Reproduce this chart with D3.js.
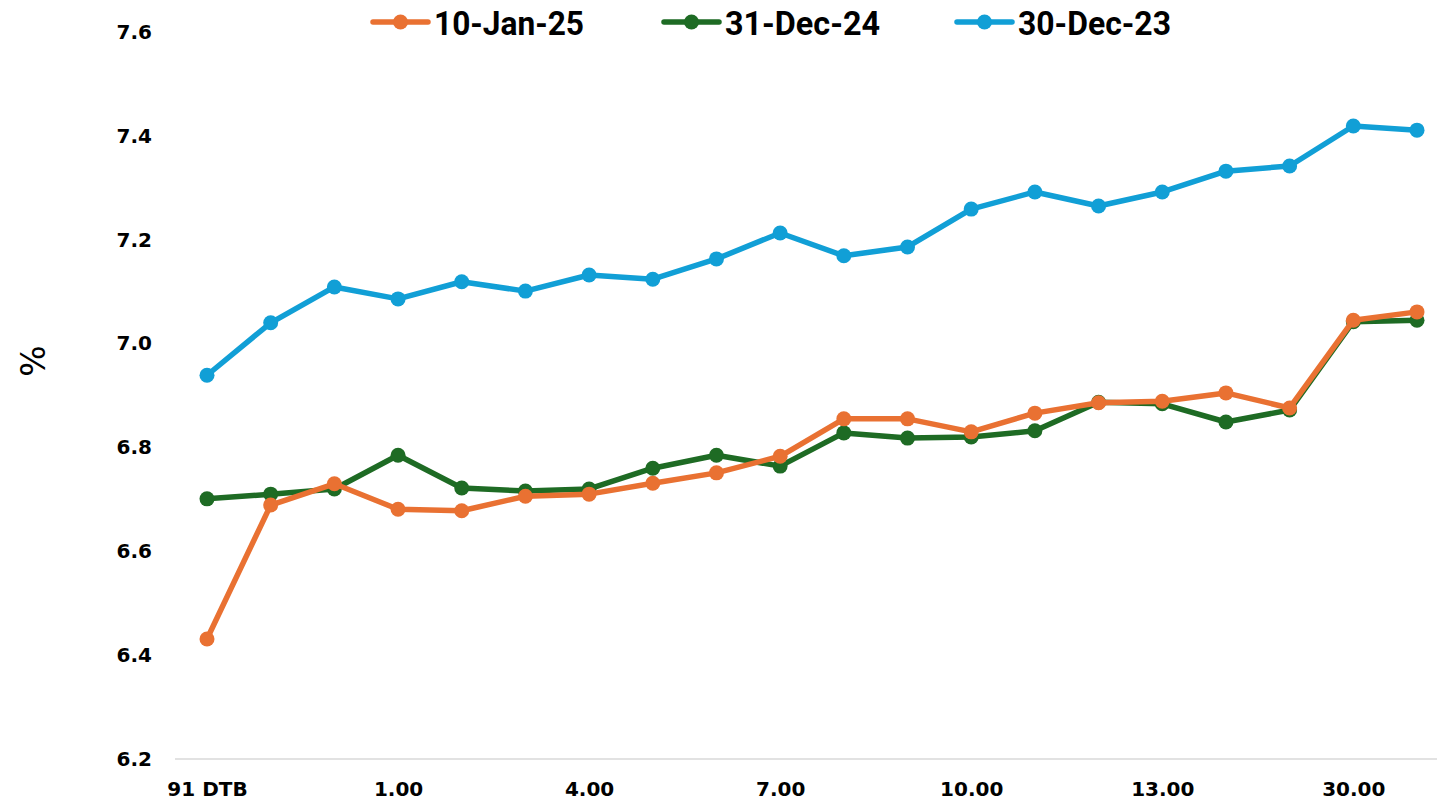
<!DOCTYPE html>
<html>
<head>
<meta charset="utf-8">
<script src="https://cdn.jsdelivr.net/npm/d3@7"></script>
<style>
  html, body { margin: 0; padding: 0; background: #fff; }
  svg { display: block; }
</style>
</head>
<body>
<svg id="chart" width="1437" height="805"></svg>
<script>
// Tenor buckets along the curve
const tenors = ["91 DTB", "182 DTB", "364 DTB", "1.00", "2.00", "3.00", "4.00", "5.00", "6.00", "7.00",
                "8.00", "9.00", "10.00", "11.00", "12.00", "13.00", "14.00", "15.00", "30.00", "40.00"];
// Only every third tenor is labelled on the axis
const shownTicks = ["91 DTB", "1.00", "4.00", "7.00", "10.00", "13.00", "30.00"];

// Yields (%) per date
const seriesNames = ["10-Jan-25", "31-Dec-24", "30-Dec-23"];
const jan25 = [6.431, 6.689, 6.730, 6.681, 6.678, 6.706, 6.710, 6.731, 6.751, 6.783,
               6.855, 6.855, 6.830, 6.866, 6.886, 6.889, 6.905, 6.876, 7.045, 7.061];
const dec24 = [6.701, 6.710, 6.720, 6.785, 6.722, 6.716, 6.720, 6.760, 6.785, 6.764,
               6.828, 6.818, 6.820, 6.832, 6.887, 6.884, 6.849, 6.872, 7.042, 7.045];
const dec23 = [6.939, 7.040, 7.109, 7.086, 7.119, 7.101, 7.132, 7.124, 7.163, 7.213,
               7.169, 7.186, 7.259, 7.292, 7.265, 7.292, 7.332, 7.342, 7.419, 7.411];
const yTicks = [6.2, 6.4, 6.6, 6.8, 7.0, 7.2, 7.4, 7.6];
const colors = ["#E97132", "#1E6B24", "#119FD6"];

const series = [jan25, dec24, dec23].map((vals, i) => ({
  name: seriesNames[i], color: colors[i],
  points: vals.map((v, j) => ({ tenor: tenors[j], value: v }))
}));

const svg = d3.select("#chart");
const tickFont = "'DejaVu Sans', 'Noto Sans', sans-serif";

const x = d3.scalePoint().domain(tenors).range([207, 1417]);
const y = d3.scaleLinear().domain([6.2, 7.6]).range([759, 32]);

// Baseline
svg.append("line")
  .attr("x1", 175).attr("x2", 1437)
  .attr("y1", y(6.2)).attr("y2", y(6.2))
  .attr("stroke", "#d9d9d9").attr("stroke-width", 1.5);

// Y axis labels
const yAxis = d3.axisLeft(y).tickValues(yTicks).tickFormat(d3.format(".1f")).tickSize(0).tickPadding(0);
const gy = svg.append("g").attr("transform", "translate(152,0)").call(yAxis);
gy.select(".domain").remove();
gy.selectAll("text")
  .attr("font-family", tickFont).attr("font-weight", "bold")
  .attr("font-size", 20).attr("fill", "#000");

// X axis labels
const xAxis = d3.axisBottom(x).tickValues(shownTicks).tickSize(0).tickPadding(0);
const gx = svg.append("g").attr("transform", `translate(0,${y(6.2)})`).call(xAxis);
gx.select(".domain").remove();
gx.selectAll("text")
  .attr("dy", 0).attr("y", 37)
  .attr("font-family", tickFont).attr("font-weight", "bold")
  .attr("font-size", 20).attr("fill", "#000");

// Y axis title
svg.append("text")
  .attr("transform", "translate(45,361) rotate(-90)")
  .attr("text-anchor", "middle")
  .attr("font-family", tickFont).attr("font-size", 33).attr("fill", "#000")
  .text("%");

// Lines and markers
const line = d3.line().x(d => x(d.tenor)).y(d => y(d.value));
const g = svg.append("g");
series.slice().reverse().forEach(s => {
  const sg = g.append("g");
  sg.append("path")
    .datum(s.points)
    .attr("d", line)
    .attr("fill", "none")
    .attr("stroke", s.color)
    .attr("stroke-width", 5.5)
    .attr("stroke-linejoin", "round");
  sg.selectAll("circle")
    .data(s.points)
    .join("circle")
    .attr("cx", d => x(d.tenor))
    .attr("cy", d => y(d.value))
    .attr("r", 7.5)
    .attr("fill", s.color);
});

// Legend
const legendX = [373, 664, 957];
const legendW = [150, 155, 153];
const legend = svg.append("g");
series.forEach((s, i) => {
  const lg = legend.append("g").attr("transform", `translate(${legendX[i]},22)`);
  lg.append("line").attr("x1", 0).attr("x2", 55).attr("y1", 0).attr("y2", 0)
    .attr("stroke", s.color).attr("stroke-width", 5.5).attr("stroke-linecap", "round");
  lg.append("circle").attr("cx", 27.5).attr("cy", 0).attr("r", 7.5).attr("fill", s.color);
  lg.append("text")
    .attr("x", 61).attr("y", 12.5)
    .attr("font-family", "'Roboto', 'Liberation Sans', sans-serif")
    .attr("font-weight", "bold").attr("font-size", 34).attr("fill", "#000")
    .attr("textLength", legendW[i]).attr("lengthAdjust", "spacingAndGlyphs")
    .text(s.name);
});
</script>
</body>
</html>
